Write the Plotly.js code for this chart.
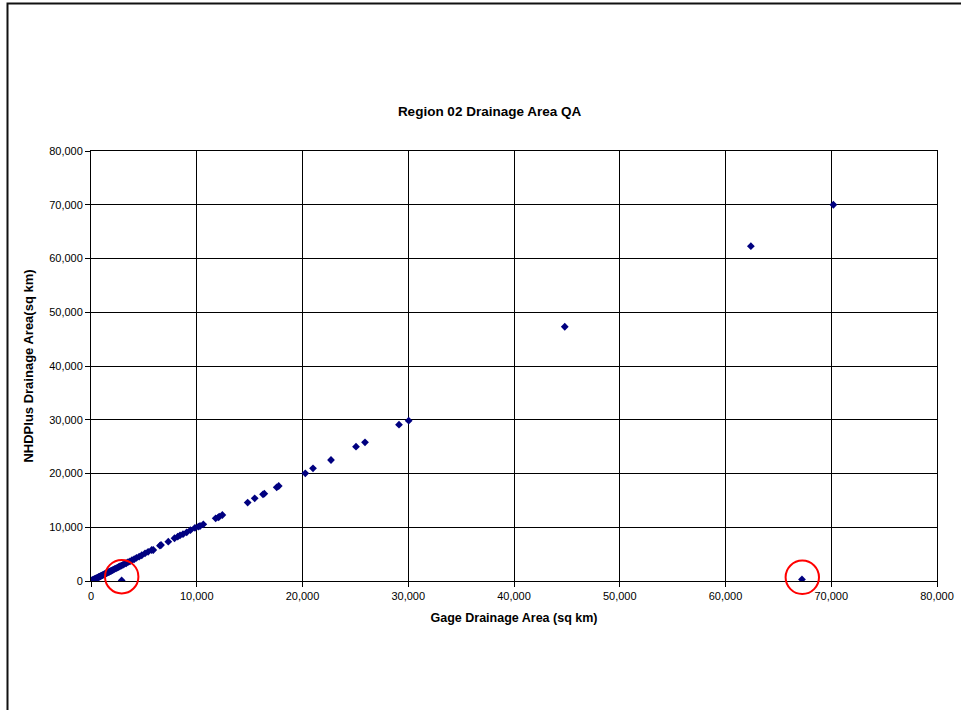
<!DOCTYPE html>
<html>
<head>
<meta charset="utf-8">
<script src="https://cdn.plot.ly/plotly-3.0.1.min.js"></script>
<style>html,body{margin:0;padding:0;background:#fff;}#chart{width:961px;height:710px;}</style>
</head>
<body>
<div id="chart"></div>
<script>
// Gage drainage area (sq km)
const gageArea = [20,50,80,110,150,190,230,270,320,360,410,460,510,560,620,680,740,800,870,940,
  1010,1080,1150,1230,1310,1390,1470,1560,1650,1740,1830,1930,2030,2140,2250,2370,2490,2620,2750,2880,
  3020,3170,3330,3500,3680,3870,4080,4300,4550,4800,5110,5400,5740,5890,6520,6620,7310,7900,8200,8420,
  8700,9050,9400,9830,10150,10310,10620,11790,12040,12130,12420,14815,15480,16265,16390,17560,17750,
  20265,20993,22695,25060,25910,29125,30040,44800,62400,70200,2900,67230];
// NHDPlus drainage area (sq km)
const nhdArea = [25,45,90,100,160,180,240,260,330,350,400,470,500,550,630,660,750,790,860,950,
  990,1090,1140,1220,1300,1400,1450,1550,1660,1720,1840,1910,2040,2120,2260,2350,2500,2600,2770,2870,
  3000,3180,3300,3520,3650,3880,4050,4320,4530,4790,5150,5420,5770,5770,6570,6700,7320,7950,8250,8500,
  8720,9060,9450,9900,10100,10230,10550,11660,11850,11960,12280,14600,15380,16130,16250,17430,17670,
  20030,20960,22510,24990,25800,29080,29830,47300,62300,70000,100,300];
const tickVals = [0,10000,20000,30000,40000,50000,60000,70000,80000];
const tickText = ["0","10,000","20,000","30,000","40,000","50,000","60,000","70,000","80,000"];

const fontFam = "Liberation Sans, Arial, sans-serif";
const axisCommon = {
  range:[0,80000], tickvals:tickVals, ticktext:tickText,
  showgrid:true, gridcolor:"#000", gridwidth:1,
  showline:true, linecolor:"#000", linewidth:1, mirror:true,
  ticks:"outside", ticklen:5, tickcolor:"#000",
  zeroline:false, tickfont:{family:fontFam, size:11, color:"#000"}
};

const data = [{
  type:"scatter", mode:"markers", x:gageArea, y:nhdArea,
  marker:{symbol:"diamond", size:6, color:"#000080", line:{width:0}},
  hoverinfo:"x+y", showlegend:false
}];

const layout = {
  width:961, height:710,
  margin:{l:91, r:24, t:151, b:129},
  paper_bgcolor:"#fff", plot_bgcolor:"#fff",
  title:{text:"<b>Region 02 Drainage Area QA</b>", font:{family:fontFam, size:13.5, color:"#000"},
    xref:"container", x:0.5094, yref:"container", y:1-111/710, xanchor:"center", yanchor:"middle"},
  xaxis:Object.assign({}, axisCommon, {
    title:{text:"<b>Gage Drainage Area (sq km)</b>", font:{family:fontFam, size:12.5, color:"#000"}, standoff:12}
  }),
  yaxis:Object.assign({}, axisCommon, {
    title:{text:"<b>NHDPlus Drainage Area(sq km)</b>", font:{family:fontFam, size:13, color:"#000"}, standoff:12}
  }),
  shapes:[
    {type:"circle", xref:"paper", yref:"paper",
      x0:0.01655, x1:0.05603, y0:-0.02884, y1:0.04884, line:{color:"#ff0000", width:2}},
    {type:"circle", xref:"paper", yref:"paper",
      x0:0.82104, x1:0.86052, y0:-0.03023, y1:0.04744, line:{color:"#ff0000", width:2}},
    {type:"path", xref:"paper", yref:"paper",
      path:"M -0.0987 -0.4 L -0.0987 1.3430 L 1.1 1.3430", line:{color:"#111", width:2}}
  ]
};

Plotly.newPlot("chart", data, layout, {displayModeBar:false, staticPlot:true});
</script>
</body>
</html>
